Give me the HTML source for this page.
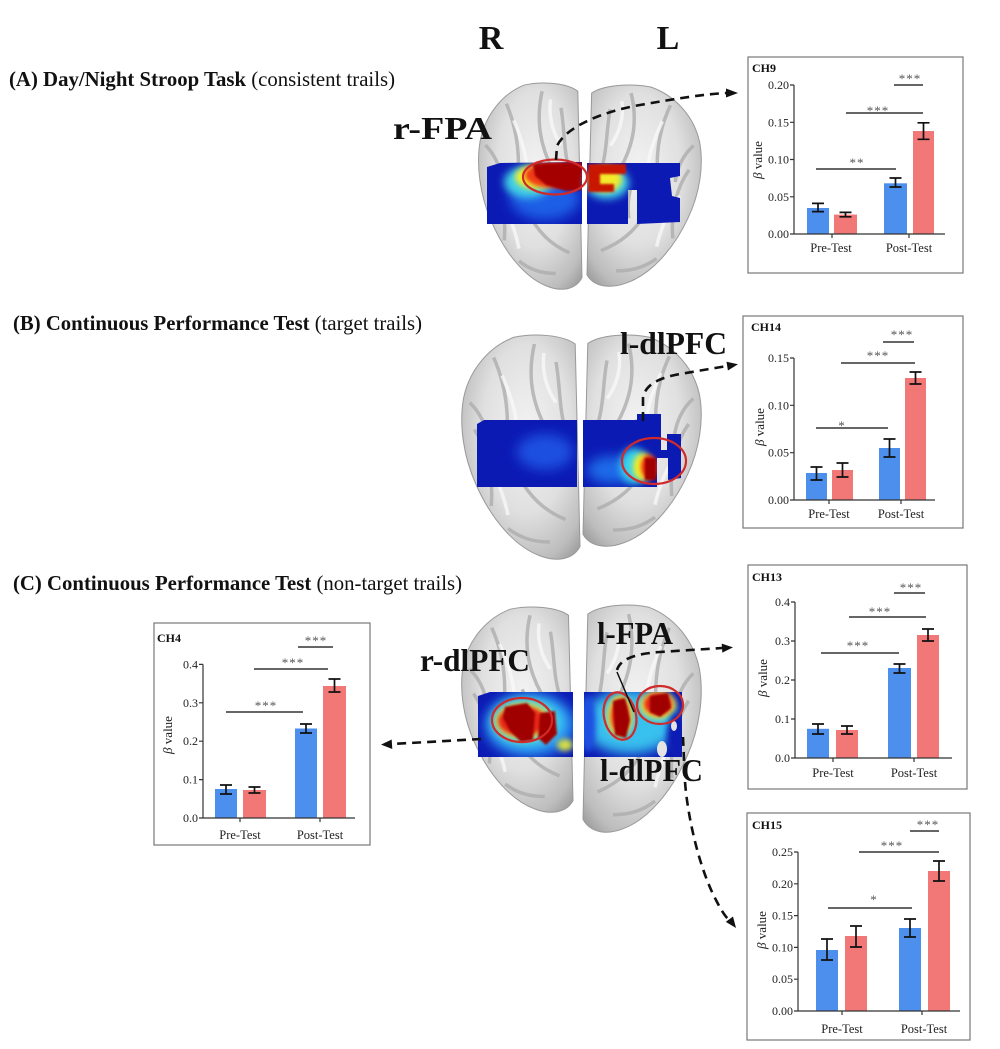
<!DOCTYPE html>
<html><head><meta charset="utf-8"><style>
html,body{margin:0;padding:0;background:#fff}
svg{display:block}
text{font-family:"Liberation Serif",serif;fill:#111}
.ch{font-weight:bold;font-size:12px}
.tk{font-size:12px;text-anchor:end;fill:#222}
.xl{font-size:12.5px;text-anchor:middle;fill:#222}
.st{font-size:13px;fill:#555;text-anchor:middle;letter-spacing:1px}
.yl{font-size:13px;text-anchor:middle;fill:#222}
.ax{stroke:#333;stroke-width:1.2;fill:none}
.bk{stroke:#333;stroke-width:1.4;fill:none}
.eb{stroke:#111;stroke-width:1.7;fill:none}
.bl{fill:#4d8fec}.rd{fill:#f27878}
.box{fill:#fff;stroke:#777;stroke-width:1.2}
.lab{font-weight:bold;font-size:32px}
.dash{stroke:#111;stroke-width:2.6;fill:none;stroke-dasharray:9 6}
.ring{fill:none;stroke:#d02a2a;stroke-width:2.2}
</style></head><body>
<svg width="1000" height="1049" viewBox="0 0 1000 1049" xmlns="http://www.w3.org/2000/svg">
<defs>
<radialGradient id="bg" cx="0.55" cy="0.42" r="0.68">
<stop offset="0" stop-color="#f2f2f2"/><stop offset="0.55" stop-color="#e0e0e0"/><stop offset="0.88" stop-color="#bdbdbd"/><stop offset="1" stop-color="#a2a2a2"/>
</radialGradient>
<filter id="b1" x="-50%" y="-50%" width="200%" height="200%"><feGaussianBlur stdDeviation="1"/></filter>
<filter id="b2" x="-50%" y="-50%" width="200%" height="200%"><feGaussianBlur stdDeviation="2"/></filter>
<filter id="b3" x="-50%" y="-50%" width="200%" height="200%"><feGaussianBlur stdDeviation="3"/></filter>
<filter id="b4" x="-50%" y="-50%" width="200%" height="200%"><feGaussianBlur stdDeviation="4"/></filter>
<filter id="b5" x="-50%" y="-50%" width="200%" height="200%"><feGaussianBlur stdDeviation="5"/></filter>
<filter id="b6" x="-50%" y="-50%" width="200%" height="200%"><feGaussianBlur stdDeviation="6"/></filter>
<g id="hemi">
<path d="M45,1 C62,-1 86,0 96,4 L100,94 C94,100 80,101 66,98 C46,94 26,82 13,66 C3,54 -1,40 3,28 C8,15 25,5 45,1 Z" fill="url(#bg)" stroke="#999" stroke-width="1" vector-effect="non-scaling-stroke"/>
<path d="M28,10 C38,22 42,36 38,52 M62,4 C56,18 60,30 72,42 M12,42 C22,50 28,62 26,76 M48,62 C58,72 70,78 88,82 M80,12 C84,24 82,34 90,46 M40,86 C50,90 60,92 75,92 M8,30 C16,34 22,40 24,48 M55,40 C62,48 66,56 64,66" fill="none" stroke="#aeaeae" stroke-width="3.5" opacity="0.8" vector-effect="non-scaling-stroke"/>
<path d="M35,18 C45,30 50,40 48,55 M70,8 C68,16 72,24 80,30 M20,55 C30,62 36,70 40,80 M75,50 C80,58 86,64 94,66" fill="none" stroke="#fafafa" stroke-width="3.5" opacity="0.75" vector-effect="non-scaling-stroke"/>
</g>
<clipPath id="cA"><path d="M487,167 L500,163 L582,162 L582,224 L487,224 Z M587,163 L680,163 L680,176 L670,178 L672,196 L680,198 L680,222 L637,224 L637,190 L628,190 L628,224 L587,224 Z"/></clipPath>
<clipPath id="cB"><path d="M477,424 L484,420 L577,420 L577,487 L477,487 Z M583,420 L637,420 L637,414 L661,414 L661,450 L667,450 L667,434 L681,434 L681,478 L668,480 L668,458 L657,458 L657,487 L583,487 Z"/></clipPath>
<clipPath id="cC"><path d="M478,696 L490,692 L573,692 L573,757 L478,757 Z M584,692 L682,692 L682,757 L584,757 Z"/></clipPath>
</defs>

<!-- Titles -->
<text x="491" y="49" font-size="34" font-weight="bold" text-anchor="middle">R</text>
<text x="668" y="49" font-size="34" font-weight="bold" text-anchor="middle">L</text>
<text x="9" y="86" font-size="21" textLength="386" lengthAdjust="spacingAndGlyphs"><tspan font-weight="bold">(A) Day/Night Stroop Task</tspan> (consistent trails)</text>
<text x="13" y="330" font-size="21" textLength="409" lengthAdjust="spacingAndGlyphs"><tspan font-weight="bold">(B) Continuous Performance Test</tspan> (target trails)</text>
<text x="13" y="590" font-size="21" textLength="449" lengthAdjust="spacingAndGlyphs"><tspan font-weight="bold">(C) Continuous Performance Test</tspan> (non-target trails)</text>

<!-- Brain A -->
<use href="#hemi" transform="translate(477,83) scale(1.05,2.07)"/>
<use href="#hemi" transform="translate(703,85) scale(-1.16,2.02)"/>
<g clip-path="url(#cA)">
<rect x="480" y="155" width="210" height="75" fill="#0c1ab4"/>
<ellipse cx="545" cy="198" rx="35" ry="22" fill="#1f5fe6" filter="url(#b6)"/>
<ellipse cx="528" cy="182" rx="24" ry="16" fill="#3fd0e8" filter="url(#b4)"/>
<ellipse cx="535" cy="177" rx="20" ry="12" fill="#f2ee2a" filter="url(#b3)"/>
<ellipse cx="553" cy="175" rx="28" ry="13" fill="#f03a12" filter="url(#b2)"/>
<path d="M533,164 L582,162 L582,190 L566,191 L546,185 L535,176 Z" fill="#a50000" filter="url(#b1)"/>
<ellipse cx="607" cy="183" rx="22" ry="16" fill="#40d0e8" filter="url(#b4)"/>
<ellipse cx="605" cy="179" rx="17" ry="13" fill="#f2ea2a" filter="url(#b3)"/>
<path d="M588,164 L626,164 L626,174 L600,174 L600,184 L614,184 L614,192 L588,192 Z" fill="#c81400" filter="url(#b1)"/>
</g>
<ellipse class="ring" cx="555" cy="177" rx="32" ry="17.5"/>

<!-- Brain B -->
<use href="#hemi" transform="translate(460,335) scale(1.2,2.25)"/>
<use href="#hemi" transform="translate(703,335) scale(-1.2,2.12)"/>
<g clip-path="url(#cB)">
<rect x="470" y="405" width="220" height="90" fill="#0c1ab4"/>
<ellipse cx="545" cy="452" rx="28" ry="18" fill="#1d4fe0" filter="url(#b6)"/>
<ellipse cx="612" cy="470" rx="25" ry="14" fill="#1f6ae8" filter="url(#b6)"/>
<ellipse cx="634" cy="466" rx="14" ry="18" fill="#38d4ec" filter="url(#b4)"/>
<ellipse cx="643" cy="467" rx="10" ry="14" fill="#f4ee28" filter="url(#b3)"/>
<ellipse cx="649" cy="467" rx="8" ry="12" fill="#ee2a10" filter="url(#b2)"/>
<rect x="645" y="458" width="11" height="22" fill="#a00000" filter="url(#b1)"/>
</g>
<ellipse class="ring" cx="654" cy="461" rx="32" ry="23"/>

<!-- Brain C -->
<use href="#hemi" transform="translate(460,607) scale(1.13,2.06)"/>
<use href="#hemi" transform="translate(703,605) scale(-1.2,2.28)"/>
<g clip-path="url(#cC)">
<rect x="470" y="685" width="220" height="80" fill="#0c1ab4"/>
<ellipse cx="530" cy="725" rx="45" ry="32" fill="#2a8ff0" filter="url(#b6)"/>
<ellipse cx="527" cy="722" rx="36" ry="24" fill="#3cd2ee" filter="url(#b5)"/>
<ellipse cx="523" cy="721" rx="28" ry="18" fill="#eee83a" filter="url(#b4)"/>
<ellipse cx="522" cy="721" rx="24" ry="15" fill="#e82812" filter="url(#b2)"/>
<path d="M505,707 L527,703 L535,713 L533,740 L521,742 L510,731 L503,718 Z M540,713 L555,711 L557,734 L546,745 L538,738 Z" fill="#a00000" filter="url(#b1)"/>
<ellipse cx="565" cy="745" rx="8" ry="6" fill="#d8e040" filter="url(#b3)"/>
<ellipse cx="630" cy="722" rx="48" ry="32" fill="#38c0ee" filter="url(#b6)"/>
<ellipse cx="588" cy="724" rx="8" ry="28" fill="#1d4fe0" filter="url(#b3)"/>
<ellipse cx="620" cy="716" rx="13" ry="21" fill="#efe63a" filter="url(#b3)"/>
<ellipse cx="620" cy="716" rx="9" ry="17" fill="#e82812" filter="url(#b2)"/>
<path d="M613,701 L625,698 L630,720 L626,738 L615,735 Z" fill="#a00000" filter="url(#b1)"/>
<ellipse cx="658" cy="705" rx="18" ry="14" fill="#efe63a" filter="url(#b3)"/>
<ellipse cx="658" cy="704" rx="14" ry="11" fill="#e82812" filter="url(#b2)"/>
<path d="M650,696 L668,693 L671,708 L660,717 L650,712 Z" fill="#a00000" filter="url(#b1)"/>
<ellipse cx="677" cy="735" rx="10" ry="22" fill="#0c1ab4" filter="url(#b3)"/>
<ellipse cx="662" cy="749" rx="5" ry="8" fill="#e4e4e4"/>
<ellipse cx="674" cy="726" rx="3" ry="5" fill="#e4e4e4"/>
</g>
<ellipse class="ring" cx="522" cy="720" rx="30" ry="22"/>
<ellipse class="ring" cx="620" cy="716" rx="16" ry="24" transform="rotate(-12 620 716)"/>
<ellipse class="ring" cx="660" cy="705" rx="23" ry="19"/>

<!-- Arrows -->
<path class="dash" d="M556,160 L557,146 C565,128 600,112 640,105 C680,98 705,94 727,93"/>
<polygon points="738,93 726,88.5 726,97.5" fill="#111"/>
<path class="dash" d="M643,421 L643,398 C645,385 658,378 680,374 L727,366"/>
<polygon points="738,364.3 727.9,370.5 726.5,361.7" fill="#111"/>
<path class="dash" d="M481,739 L392,744"/>
<polygon points="381,744.6 392.3,749 391.7,739.5" fill="#111"/>
<path class="dash" d="M617,670 C620,660 632,654 660,652 L722,648"/>
<polygon points="733,647.4 722.3,652.6 721.7,643.6" fill="#111"/>
<path d="M617,672 L634,712" stroke="#111" stroke-width="1.5"/>
<path class="dash" d="M683,737 L685,782 C688,820 700,870 716,900 C721,910 725,916 728,919"/>
<polygon points="736,928 733,916.5 725.8,921.9" fill="#111"/>

<!-- Region labels -->
<text class="lab" x="393" y="139" textLength="99" lengthAdjust="spacingAndGlyphs">r-FPA</text>
<text class="lab" x="620" y="354" textLength="107" lengthAdjust="spacingAndGlyphs">l-dlPFC</text>
<text class="lab" x="420" y="671" textLength="110" lengthAdjust="spacingAndGlyphs">r-dlPFC</text>
<text class="lab" x="597" y="644" textLength="76" lengthAdjust="spacingAndGlyphs">l-FPA</text>
<text class="lab" x="600" y="781" textLength="103" lengthAdjust="spacingAndGlyphs">l-dlPFC</text>

<!-- CH9 -->
<rect class="box" x="748" y="57" width="215" height="216"/>
<text class="ch" x="752" y="72">CH9</text>
<rect class="bl" x="807" y="208" width="22" height="26"/>
<rect class="rd" x="834" y="214.6" width="23" height="19.4"/>
<rect class="bl" x="884" y="183.3" width="23" height="50.7"/>
<rect class="rd" x="913" y="131" width="21" height="103"/>
<path class="eb" d="M812,203.4H824M818,203.4V211.6M812,211.6H824 M839.5,212.4H851.5M845.5,212.4V216.8M839.5,216.8H851.5 M889.5,178H901.5M895.5,178V187M889.5,187H901.5 M917.5,122.8H929.5M923.5,122.8V139.3M917.5,139.3H929.5"/>
<path class="ax" d="M794,85V234H945 M790,85H794M790,122.3H794M790,159.5H794M790,196.8H794M790,234H794 M832,234V238M909,234V238"/>
<text class="tk" x="789" y="89">0.20</text><text class="tk" x="789" y="126.3">0.15</text><text class="tk" x="789" y="163.5">0.10</text><text class="tk" x="789" y="200.8">0.05</text><text class="tk" x="789" y="238">0.00</text>
<text class="xl" x="831" y="252">Pre-Test</text><text class="xl" x="909" y="252">Post-Test</text>
<text class="yl" transform="translate(762,160) rotate(-90)"><tspan font-style="italic">β</tspan> value</text>
<path class="bk" d="M816,169H896 M846,113H923 M894,85H923"/>
<text class="st" x="857" y="167">**</text><text class="st" x="878" y="115">***</text><text class="st" x="910" y="83">***</text>

<!-- CH14 -->
<rect class="box" x="743" y="316" width="220" height="212"/>
<text class="ch" x="751" y="331">CH14</text>
<rect class="bl" x="806" y="473" width="21" height="27"/>
<rect class="rd" x="832" y="470" width="21" height="30"/>
<rect class="bl" x="879" y="448" width="21" height="52"/>
<rect class="rd" x="905" y="378" width="21" height="122"/>
<path class="eb" d="M810.5,467H822.5M816.5,467V480M810.5,480H822.5 M836.5,463H848.5M842.5,463V477M836.5,477H848.5 M883.5,439H895.5M889.5,439V457M883.5,457H895.5 M909.5,372H921.5M915.5,372V384M909.5,384H921.5"/>
<path class="ax" d="M794,358V500H935 M790,358H794M790,405.3H794M790,452.7H794M790,500H794 M829,500V504M901,500V504"/>
<text class="tk" x="789" y="362">0.15</text><text class="tk" x="789" y="409.3">0.10</text><text class="tk" x="789" y="456.7">0.05</text><text class="tk" x="789" y="504">0.00</text>
<text class="xl" x="829" y="518">Pre-Test</text><text class="xl" x="901" y="518">Post-Test</text>
<text class="yl" transform="translate(764,427) rotate(-90)"><tspan font-style="italic">β</tspan> value</text>
<path class="bk" d="M816,428H888 M841,363H915 M883,342H914"/>
<text class="st" x="842" y="430">*</text><text class="st" x="878" y="360">***</text><text class="st" x="902" y="339">***</text>

<!-- CH13 -->
<rect class="box" x="748" y="565" width="219" height="224"/>
<text class="ch" x="752" y="581">CH13</text>
<rect class="bl" x="807" y="728.8" width="22" height="29.2"/>
<rect class="rd" x="836" y="730" width="22" height="28"/>
<rect class="bl" x="888" y="668" width="23" height="90"/>
<rect class="rd" x="917" y="635" width="22" height="123"/>
<path class="eb" d="M812,724H824M818,724V734M812,734H824 M841,726H853M847,726V734M841,734H853 M893.5,664H905.5M899.5,664V673M893.5,673H905.5 M922,629H934M928,629V641M922,641H934"/>
<path class="ax" d="M795,602V758H952 M791,602H795M791,641H795M791,680H795M791,719H795M791,758H795 M833,758V762M914,758V762"/>
<text class="tk" x="790" y="606">0.4</text><text class="tk" x="790" y="645">0.3</text><text class="tk" x="790" y="684">0.2</text><text class="tk" x="790" y="723">0.1</text><text class="tk" x="790" y="762">0.0</text>
<text class="xl" x="833" y="777">Pre-Test</text><text class="xl" x="914" y="777">Post-Test</text>
<text class="yl" transform="translate(767,678) rotate(-90)"><tspan font-style="italic">β</tspan> value</text>
<path class="bk" d="M821,653H899 M849,617H926 M894,593H925"/>
<text class="st" x="858" y="650">***</text><text class="st" x="880" y="616">***</text><text class="st" x="911" y="592">***</text>

<!-- CH15 -->
<rect class="box" x="747" y="813" width="223" height="227"/>
<text class="ch" x="752" y="829">CH15</text>
<rect class="bl" x="816" y="950" width="22" height="61"/>
<rect class="rd" x="845" y="936" width="22" height="75"/>
<rect class="bl" x="899" y="928" width="22" height="83"/>
<rect class="rd" x="928" y="871" width="22" height="140"/>
<path class="eb" d="M821,939H833M827,939V960M821,960H833 M850,926H862M856,926V947M850,947H862 M904,919H916M910,919V937M904,937H916 M933,861H945M939,861V881M933,881H945"/>
<path class="ax" d="M798,852V1011H960 M794,852H798M794,883.8H798M794,915.6H798M794,947.4H798M794,979.2H798M794,1011H798 M842,1011V1015M922,1011V1015"/>
<text class="tk" x="793" y="856">0.25</text><text class="tk" x="793" y="887.8">0.20</text><text class="tk" x="793" y="919.6">0.15</text><text class="tk" x="793" y="951.4">0.10</text><text class="tk" x="793" y="983.2">0.05</text><text class="tk" x="793" y="1015">0.00</text>
<text class="xl" x="842" y="1033">Pre-Test</text><text class="xl" x="924" y="1033">Post-Test</text>
<text class="yl" transform="translate(766,930) rotate(-90)"><tspan font-style="italic">β</tspan> value</text>
<path class="bk" d="M828,908H912 M859,852H939 M910,831H939"/>
<text class="st" x="874" y="904">*</text><text class="st" x="892" y="850">***</text><text class="st" x="928" y="829">***</text>

<!-- CH4 -->
<rect class="box" x="154" y="623" width="216" height="222"/>
<text class="ch" x="157" y="642">CH4</text>
<rect class="bl" x="215" y="789" width="22" height="29"/>
<rect class="rd" x="243" y="790" width="23" height="28"/>
<rect class="bl" x="295" y="728.5" width="22" height="89.5"/>
<rect class="rd" x="323" y="686" width="23" height="132"/>
<path class="eb" d="M220,785H232M226,785V794M220,794H232 M248.5,787H260.5M254.5,787V793M248.5,793H260.5 M300,724H312M306,724V733M300,733H312 M328.5,679H340.5M334.5,679V692M328.5,692H340.5"/>
<path class="ax" d="M203,664.4V818H355 M199,664.4H203M199,702.8H203M199,741.2H203M199,779.6H203M199,818H203 M240,818V822M320,818V822"/>
<text class="tk" x="198" y="668.4">0.4</text><text class="tk" x="198" y="706.8">0.3</text><text class="tk" x="198" y="745.2">0.2</text><text class="tk" x="198" y="783.6">0.1</text><text class="tk" x="198" y="822">0.0</text>
<text class="xl" x="240" y="839">Pre-Test</text><text class="xl" x="320" y="839">Post-Test</text>
<text class="yl" transform="translate(172,735) rotate(-90)"><tspan font-style="italic">β</tspan> value</text>
<path class="bk" d="M226,712H303 M254,669H328 M298,647H333"/>
<text class="st" x="266" y="710">***</text><text class="st" x="293" y="667">***</text><text class="st" x="316" y="645">***</text>
</svg>
</body></html>
